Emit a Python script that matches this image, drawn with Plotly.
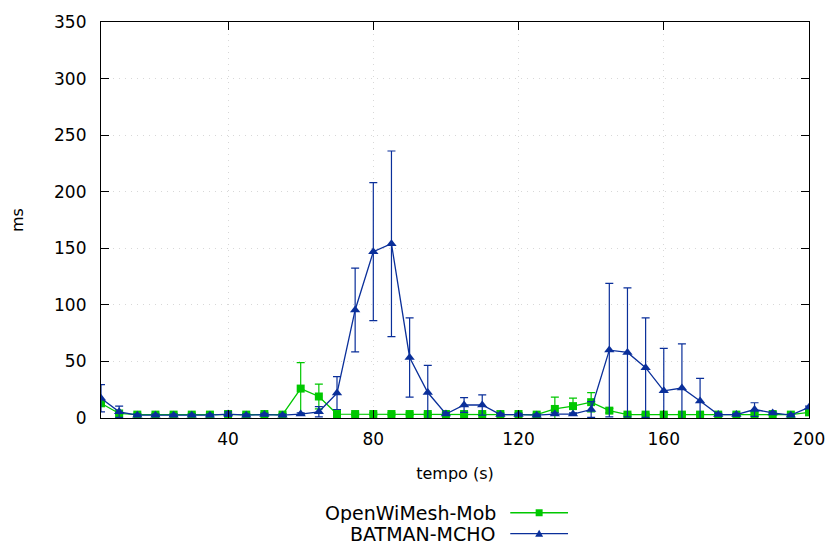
import plotly.graph_objects as go

# Time axis (s)
tempo = [5, 10, 15, 20, 25, 30, 35, 40, 45, 50,
         55, 60, 65, 70, 75, 80, 85, 90, 95, 100,
         105, 110, 115, 120, 125, 130, 135, 140, 145, 150,
         155, 160, 165, 170, 175, 180, 185, 190, 195, 200]

# OpenWiMesh-Mob delay (ms) and error
owm_ms = [13, 4, 3, 3, 3, 3, 3, 3.5, 3, 3.5,
          3, 26, 19, 3.5, 3.5, 3.5, 3.5, 3.5, 3.5, 3.5,
          3.5, 3.5, 3.5, 3.5, 3, 8, 10.5, 14, 6.5, 3,
          3, 3, 3, 3, 3, 3, 3.5, 3.5, 3, 5]
owm_err = [2, 1, 1, 1, 1, 1, 1, 1, 1, 1,
           1, 23, 11, 1, 1, 1, 1, 1, 1, 1,
           1, 1, 1, 1, 1, 10.5, 7, 8.5, 2, 1,
           1, 1, 1, 1, 1, 1, 1, 1, 1, 1]

# BATMAN-MCHO delay (ms) and error
bat_ms = [17.5, 5.5, 2.5, 2.5, 2.5, 2.5, 2.5, 3.5, 2.5, 3,
          2.5, 3.5, 5.5, 22, 95.5, 147, 154, 53.5, 22.5, 3.5,
          11.5, 11.5, 3, 3, 2.5, 3.5, 3.5, 7.5, 60, 58,
          44.5, 24, 26.5, 15, 3, 3, 7.5, 4.5, 2.5, 9.5]
bat_err = [12, 5, 1, 1, 1, 1, 1, 2, 1, 1,
           1, 1, 4.5, 14.5, 37, 61, 82, 35, 24, 1,
           6.5, 9, 1, 1, 1, 1, 1, 7, 59, 57,
           44, 37.5, 39, 20, 1, 1, 6, 1, 1, 1]

series_names = ["OpenWiMesh-Mob", "BATMAN-MCHO"]
x_ticks = [40, 80, 120, 160, 200]
y_ticks = [0, 50, 100, 150, 200, 250, 300, 350]

GREEN = "#00c800"
BLUE = "#0a2f9a"
FONT = "DejaVu Sans"

W, H = 837, 546
L, R, T, B = 101, 25, 21, 128
PW, PH = W - L - R, H - T - B


def px(xp):
    return (xp - L) / PW


def py(yp):
    return (H - B - yp) / PH


fig = go.Figure()

fig.add_trace(go.Scatter(
    x=tempo, y=owm_ms, name=series_names[0], mode="lines+markers",
    line=dict(color=GREEN, width=1.3),
    marker=dict(symbol="square", size=8, color=GREEN),
    error_y=dict(type="data", array=owm_err, visible=True,
                 color=GREEN, thickness=1.2, width=4),
))
fig.add_trace(go.Scatter(
    x=tempo, y=bat_ms, name=series_names[1], mode="lines+markers",
    line=dict(color=BLUE, width=1.3),
    marker=dict(symbol="triangle-up", size=9, color=BLUE),
    error_y=dict(type="data", array=bat_err, visible=True,
                 color=BLUE, thickness=1.2, width=4),
))

axis_common = dict(
    showline=True, linecolor="black", linewidth=1.2, mirror="allticks",
    ticks="inside", ticklen=8, tickcolor="black", tickwidth=1,
    showgrid=True, gridcolor="#d8d8d8", griddash="1px,5px", gridwidth=1,
    zeroline=False,
    tickfont=dict(family=FONT, size=17, color="black"),
)

fig.update_xaxes(range=[5, 200], tickvals=x_ticks, ticklabelstandoff=5,
                 title=dict(text="tempo (s)", font=dict(family=FONT, size=16, color="black"),
                            standoff=20),
                 **axis_common)
fig.update_yaxes(range=[0, 350], tickvals=y_ticks, ticklabelstandoff=10,
                 title=dict(text="ms", font=dict(family=FONT, size=16, color="black"),
                            standoff=26),
                 **axis_common)

# Key below the plot: label on the left, line sample with marker on the right
shapes = []
annotations = []
key_rows = [(513, GREEN, "square"), (534, BLUE, "triangle")]
for (row_y, col, sym), name in zip(key_rows, series_names):
    annotations.append(dict(
        x=px(499), y=py(row_y), xref="paper", yref="paper",
        text=name, showarrow=False, xanchor="right", yanchor="middle",
        height=21, borderpad=0,
        font=dict(family=FONT, size=19, color="black"),
    ))
    shapes.append(dict(type="line", xref="paper", yref="paper",
                       x0=px(512), x1=px(570), y0=py(row_y), y1=py(row_y),
                       line=dict(color=col, width=1.3)))
    cx = 541
    if sym == "square":
        shapes.append(dict(type="rect", xref="paper", yref="paper",
                           x0=px(cx - 3.5), x1=px(cx + 3.5),
                           y0=py(row_y + 3.5), y1=py(row_y - 3.5),
                           fillcolor=col, line=dict(width=0)))
    else:
        path = "M {} {} L {} {} L {} {} Z".format(
            px(cx - 4), py(row_y + 3), px(cx + 4), py(row_y + 3), px(cx), py(row_y - 4))
        shapes.append(dict(type="path", xref="paper", yref="paper", path=path,
                           fillcolor=col, line=dict(width=0)))

fig.update_layout(
    width=W, height=H,
    margin=dict(l=L, r=R, t=T, b=B),
    paper_bgcolor="white", plot_bgcolor="white",
    showlegend=False,
    shapes=shapes, annotations=annotations,
    font=dict(family=FONT, color="black"),
)

fig.write_html("out.html")
